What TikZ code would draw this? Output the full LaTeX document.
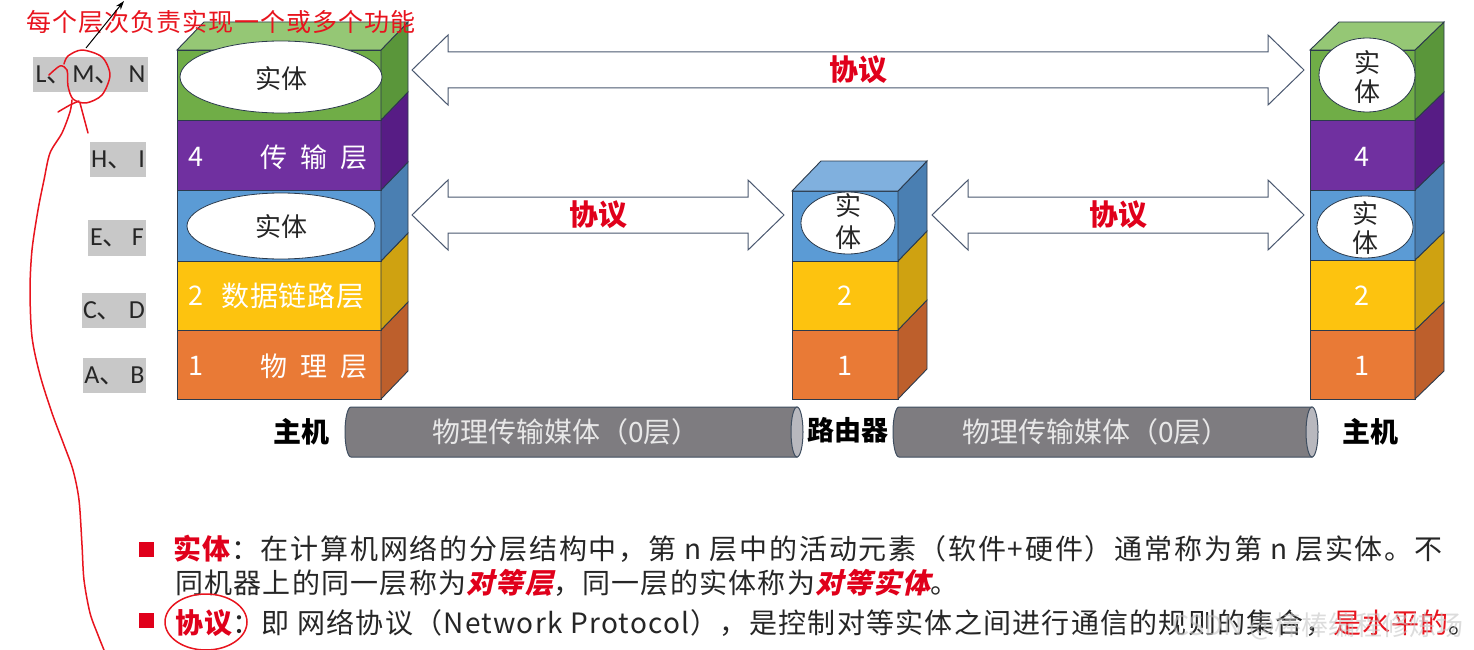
\documentclass[tikz,border=0pt]{standalone}
\usepackage{fontspec}
\usetikzlibrary{shapes.geometric,arrows.meta}
\setmainfont{Noto Sans CJK SC}
\newfontfamily\latinf{Carlito}
\newfontfamily\bodyf{Noto Sans CJK SC}[LetterSpace=4.5]
\newfontfamily\bodywide{Noto Sans CJK SC}[LetterSpace=6.5]
\newfontfamily\slantf{Noto Sans CJK SC}[FakeSlant=0.22,LetterSpace=4.5]
\newfontfamily\notef{Noto Sans CJK SC}[LetterSpace=4]
\newcommand\fsz[1]{\fontsize{#1}{#1}\selectfont}
\definecolor{gF}{HTML}{70AD47}
\definecolor{gT}{HTML}{95C775}
\definecolor{gS}{HTML}{5A963A}
\definecolor{pF}{HTML}{7030A0}
\definecolor{pS}{HTML}{571C85}
\definecolor{bF}{HTML}{5B9BD5}
\definecolor{bT}{HTML}{80B0DE}
\definecolor{bS}{HTML}{4A7FB2}
\definecolor{yF}{HTML}{FDC30F}
\definecolor{yS}{HTML}{CFA211}
\definecolor{oF}{HTML}{E97A36}
\definecolor{oS}{HTML}{BD5F2C}
\definecolor{edgec}{HTML}{2B3A4C}
\definecolor{arrowc}{HTML}{4A5870}
\definecolor{pipeF}{HTML}{7E7C80}
\definecolor{pipeC}{HTML}{B8B8BE}
\definecolor{pipeE}{HTML}{3F4E60}
\definecolor{labgray}{HTML}{C8C8C8}
\definecolor{pred}{HTML}{E0001B}
\definecolor{hred}{HTML}{E8141E}
\definecolor{txt}{HTML}{262626}
% front/side of one slab: x0 x1 ytop ybot dx dy front side
\newcommand\layerbox[8]{%
  \filldraw[fill=#7,draw=edgec,line width=0.9pt] (#1,#3) rectangle (#2,#4);
  \filldraw[fill=#8,draw=edgec,line width=0.9pt] (#2,#3) -- ++(#5,-#6) -- ++(0,#4-#3) -- (#2,#4) -- cycle;}
% top face: x0 x1 ytop dx dy fill
\newcommand\layertop[6]{%
  \filldraw[fill=#6,draw=edgec,line width=0.9pt] (#1,#3) -- ++(#4,-#5) -- ++(#2-#1,0) -- (#2,#3) -- cycle;}
% double block arrow: xl xr yc
\newcommand\dblarrow[3]{%
  \filldraw[bigarrow] (#1,#3) -- (#1+36,#3-35) -- (#1+36,#3-18) -- (#2-36,#3-18) -- (#2-36,#3-35) -- (#2,#3)
    -- (#2-36,#3+35) -- (#2-36,#3+18) -- (#1+36,#3+18) -- (#1+36,#3+35) -- cycle;}
% pipe: xl xr
\newcommand\pipe[2]{%
  \filldraw[fill=pipeF,draw=pipeE,line width=1pt] (#1+6,457) arc[start angle=90,end angle=270,x radius=6,y radius=25] -- (#2,407) -- (#2,457) -- cycle;
  \filldraw[fill=pipeC,draw=pipeE,line width=1pt] (#2,432) ellipse[x radius=6,y radius=25];}
\tikzset{
  lay/.style={text=white,font={\fsz{27}},inner sep=0},
  ent/.style={ellipse,draw=edgec,fill=white,line width=0.8pt,inner sep=0},
  enttxt/.style={font={\fsz{26}},text=txt,inner sep=0,align=center},
  lab/.style={fill=labgray,inner sep=0,font={\fsz{26}},text=txt},
  proto/.style={text=pred,font={\fsz{29}\bfseries},inner sep=0},
  bigarrow/.style={draw=arrowc,fill=white,line width=1pt,line join=miter},
  hw/.style={draw=hred,line width=1.5pt,line cap=round,line join=round},
  body/.style={anchor=west,inner sep=0,font={\bodyf\fsz{28}},text=txt},
  hostlbl/.style={font={\fsz{28}\bfseries},text=black,inner sep=0},
  pipetxt/.style={font={\fsz{28}},text=white!82!gray,inner sep=0},
}
\begin{document}
\begin{tikzpicture}[x=1pt,y=-1pt]
\useasboundingbox (0,0) rectangle (1474,650);
\fill[white] (0,0) rectangle (1474,650);

% ---------- left host ----------
\layerbox{177}{381}{330}{399}{27}{28}{oF}{oS}
\layerbox{177}{381}{261}{330}{27}{28}{yF}{yS}
\layerbox{177}{381}{190}{261}{27}{28}{bF}{bS}
\layerbox{177}{381}{120}{190}{27}{28}{pF}{pS}
\layerbox{177}{381}{50}{120}{27}{28}{gF}{gS}
\layertop{177}{381}{50}{27}{28}{gT}
\node[ent,minimum width=202,minimum height=72] (le1) at (281,77) {};
\node[enttxt] (le1t) at (281,79) {实体};
\node[ent,minimum width=188,minimum height=66] (le2) at (281,226) {};
\node[enttxt] (le2t) at (281,227) {实体};
\node[lay] (l4) at (196,157) {4};
\node[lay] (l4t) at (314,157) {传\hspace{13pt}输\hspace{13pt}层};
\node[lay] (l2) at (196,296) {2};
\node[lay,font={\fsz{28}\addfontfeature{LetterSpace=3}}] (l2t) at (293,296) {数据链路层};
\node[lay] (l1) at (196,366) {1};
\node[lay] (l1t) at (314,366) {物\hspace{13pt}理\hspace{13pt}层};

% ---------- router ----------
\layerbox{792}{898}{330}{399}{29}{30}{oF}{oS}
\layerbox{792}{898}{261}{330}{29}{30}{yF}{yS}
\layerbox{792}{898}{191}{261}{29}{30}{bF}{bS}
\layertop{792}{898}{191}{29}{30}{bT}
\node[ent,minimum width=94,minimum height=62] (re) at (848,223) {};
\node[enttxt,text height=20pt,text depth=5pt] (ret1) at (848,208) {实};
\node[enttxt,text height=20pt,text depth=5pt] (ret2) at (848,240) {体};
\node[lay] (r2) at (845,296) {2};
\node[lay] (r1) at (845,366) {1};

% ---------- right host ----------
\layerbox{1310}{1415}{330}{399}{29}{28}{oF}{oS}
\layerbox{1310}{1415}{260}{330}{29}{28}{yF}{yS}
\layerbox{1310}{1415}{190}{260}{29}{28}{bF}{bS}
\layerbox{1310}{1415}{120}{190}{29}{28}{pF}{pS}
\layerbox{1310}{1415}{50}{120}{29}{28}{gF}{gS}
\layertop{1310}{1415}{50}{29}{28}{gT}
\node[ent,minimum width=96,minimum height=74] (he1) at (1367,75) {};
\node[enttxt] (he1a) at (1367,62) {实};
\node[enttxt] (he1b) at (1367,92) {体};
\node[ent,minimum width=96,minimum height=62] (he2) at (1365,227) {};
\node[enttxt] (he2a) at (1365,213) {实};
\node[enttxt] (he2b) at (1365,243) {体};
\node[lay] (h4) at (1362,157) {4};
\node[lay] (h2) at (1362,296) {2};
\node[lay] (h1) at (1362,366) {1};

% ---------- protocol arrows ----------
\dblarrow{412}{1304}{70}
\dblarrow{412}{784}{215}
\dblarrow{932}{1304}{215}
\node[proto] (p1) at (858,70) {协议};
\node[proto] (p2) at (598,215) {协议};
\node[proto] (p3) at (1118,215) {协议};

% ---------- media ----------
\pipe{345}{797}
\pipe{893}{1312}
\node[pipetxt] (m1) at (566,432) {物理传输媒体（0层）};
\node[pipetxt] (m2) at (1096,432) {物理传输媒体（0层）};
\node[hostlbl] (hL) at (301,432) {主机};
\node[hostlbl,font={\fsz{27}\bfseries}] (rt) at (848,430) {路由器};
\node[hostlbl] (hR) at (1370,432) {主机};

% ---------- left letter labels ----------
\node[lab,minimum width=115,minimum height=35] (lmn) at (90.5,74.5) {{\latinf L}、{\latinf M}、\hspace{8pt}{\latinf N}};
\node[lab,minimum width=56,minimum height=35] (hi) at (118,159.5) {{\latinf H}、\hspace{5pt}{\latinf I}};
\node[lab,minimum width=58,minimum height=36] (ef) at (117,238) {{\latinf E}、\hspace{3pt}{\latinf F}};
\node[lab,minimum width=64,minimum height=35] (cd) at (114,310.5) {{\latinf C}、\hspace{6pt}{\latinf D}};
\node[lab,minimum width=63,minimum height=35] (ab) at (114.5,375.5) {{\latinf A}、\hspace{5pt}{\latinf B}};

% ---------- bottom text ----------
\node[fill=pred,minimum size=15,inner sep=0] (b1) at (146,549) {};
\node[fill=pred,minimum size=15,inner sep=0] (b2) at (146,620) {};
\node[body,font={\bodywide\fsz{28}}] (t1) at (173,549) {{\color{pred}\bfseries 实体}：在计算机网络的分层结构中，第 n 层中的活动元素（软件+硬件）通常称为第 n 层实体。不};
\node[body] (t2) at (175,583) {同机器上的同一层称为{\color{pred}\slantf\bfseries 对等层}，同一层的实体称为{\color{pred}\slantf\bfseries 对等实体}。};
\node[body] (t3) at (175,623) {{\color{pred}\bfseries 协议}：即 网络协议（Network Protocol），是控制对等实体之间进行通信的规则的集合，{\color{hred}是水平的}。};
\node[text=gray!45,opacity=0.6,font={\fsz{27}},inner sep=0] (wm) at (1318,626) {CSDN @棒棒编程修炼场};

% ---------- handwriting ----------
\node[text=hred,font={\notef\fsz{25}},inner sep=0] (note) at (221,22) {每个层次负责实现一个或多个功能};
\coordinate (arS) at (86,48);
\coordinate (arE) at (124,1);
\draw[black,line width=1pt,-{Stealth[length=9pt,width=6pt]}] (arS) -- (arE);
\draw[hw] plot[smooth] coordinates {(49,75) (60,66) (67,70) (68,86) (73,99) (86,103) (102,95) (110,75) (102,57) (82,50) (68,56) (64,64)};
\draw[hw] plot[smooth] coordinates {(80,103) (84,118) (88,133)};
\draw[hw] plot[smooth] coordinates {(58,112) (70,105) (79,101)};
\draw[hw] plot[smooth] coordinates {(72,100) (70,112) (62,133) (50,153) (44,180) (38,210) (32,250) (30,290) (32,337) (40,375) (52,413) (64,445) (73,470) (79,500) (82,545) (84,580) (90,613) (98,635) (104,650)};
\draw[hw] (206,622) ellipse[x radius=41,y radius=28];
\end{tikzpicture}
\end{document}
